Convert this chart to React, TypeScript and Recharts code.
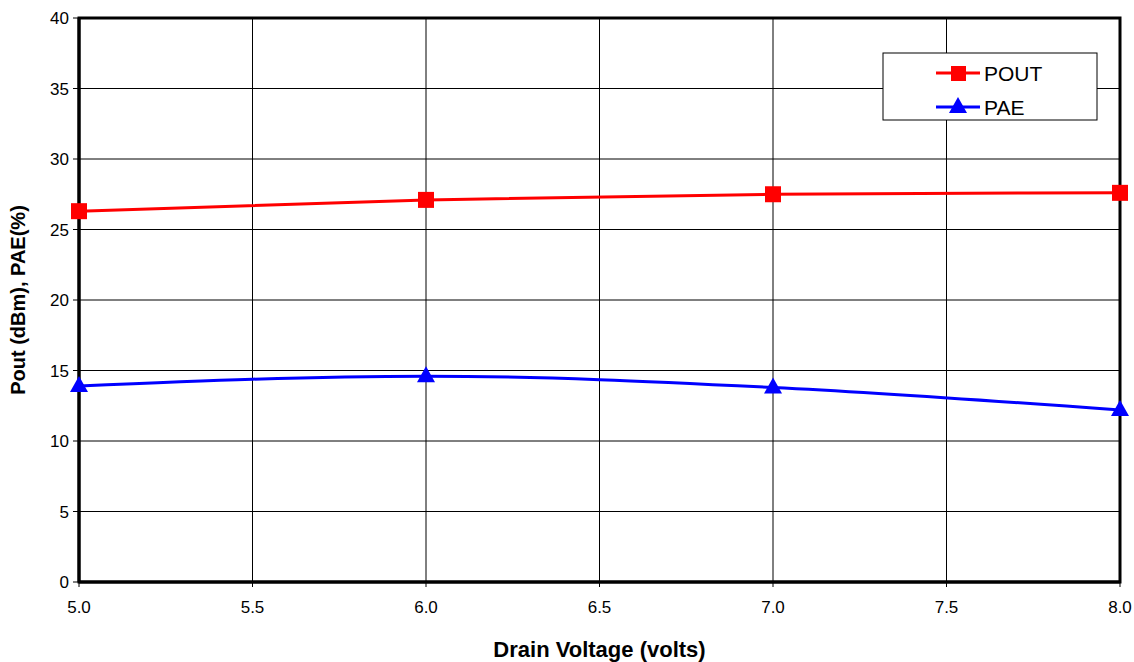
import React from "react";
import {
  LineChart, Line, XAxis, YAxis, CartesianGrid, ReferenceArea,
} from "recharts";

const voltages = [5.0, 6.0, 7.0, 8.0];
const pout = [26.3, 27.1, 27.5, 27.6];
const pae = [13.9, 14.6, 13.8, 12.2];
const xTicks = [5.0, 5.5, 6.0, 6.5, 7.0, 7.5, 8.0];
const yTicks = [0, 5, 10, 15, 20, 25, 30, 35, 40];

const data = voltages.map((v, i) => ({ v, pout: pout[i], pae: pae[i] }));

const FONT = "'Liberation Sans', Arial, sans-serif";

const Square = (props: any) => {
  const { cx, cy } = props;
  if (cx == null || cy == null) return null;
  return <rect x={cx - 8} y={cy - 8} width={16} height={16} fill="#ff0000" />;
};

const Triangle = (props: any) => {
  const { cx, cy } = props;
  if (cx == null || cy == null) return null;
  return (
    <polygon
      points={`${cx},${cy - 10} ${cx + 9},${cy + 6} ${cx - 9},${cy + 6}`}
      fill="#0000ff"
    />
  );
};

const LegendBox = () => (
  <svg
    width={216}
    height={69}
    style={{ position: "absolute", left: 882, top: 52 }}
  >
    <rect x={1} y={1} width={214} height={67} fill="#fff" stroke="#000" strokeWidth={1} />
    <line x1={54} y1={21} x2={98} y2={21} stroke="#ff0000" strokeWidth={3} />
    <rect x={69} y={14} width={15} height={15} fill="#ff0000" />
    <line x1={54} y1={55} x2={98} y2={55} stroke="#0000ff" strokeWidth={3} />
    <polygon points="76,45 85,61 67,61" fill="#0000ff" />
    <text x={102} y={29} fontSize={21} fontFamily={FONT}>POUT</text>
    <text x={102} y={63} fontSize={21} fontFamily={FONT}>PAE</text>
  </svg>
);

export default function App() {
  return (
    <div style={{ position: "absolute", left: 0, top: 0, background: "#fff", width: 1134, height: 662 }}>
      <LineChart
        width={1134}
        height={662}
        data={data}
        margin={{ top: 18, right: 14, bottom: 0, left: 0 }}
      >
        <CartesianGrid stroke="#000" strokeWidth={1} horizontalValues={yTicks} verticalValues={xTicks} />
        <XAxis
          dataKey="v"
          type="number"
          domain={[5, 8]}
          ticks={xTicks}
          tickFormatter={(v) => v.toFixed(1)}
          height={80}
          tickSize={5}
          tickLine={{ stroke: "#000" }}
          axisLine={{ stroke: "#000", strokeWidth: 3 }}
          tick={{ fontSize: 17, fill: "#000", fontFamily: FONT, dy: 12 }}
          label={{
            value: "Drain Voltage (volts)",
            position: "insideBottom",
            offset: 5,
            style: { fontSize: 22, fontWeight: "bold", fill: "#000", fontFamily: FONT },
          }}
        />
        <YAxis
          type="number"
          domain={[0, 40]}
          ticks={yTicks}
          width={79}
          tickSize={6}
          tickLine={{ stroke: "#000" }}
          axisLine={{ stroke: "#000", strokeWidth: 3 }}
          tick={{ fontSize: 17, fill: "#000", fontFamily: FONT, dx: -2 }}
          label={{
            value: "Pout (dBm), PAE(%)",
            angle: -90,
            position: "insideLeft",
            offset: 18,
            style: { fontSize: 20, fontWeight: "bold", fill: "#000", fontFamily: FONT, textAnchor: "middle" },
          }}
        />
        <ReferenceArea x1={5} x2={8} y1={0} y2={40} fill="none" stroke="#000" strokeWidth={3} ifOverflow="visible" />
        <Line
          type="monotone"
          dataKey="pout"
          name="POUT"
          stroke="#ff0000"
          strokeWidth={3}
          dot={<Square />}
          activeDot={false}
          isAnimationActive={false}
        />
        <Line
          type="monotone"
          dataKey="pae"
          name="PAE"
          stroke="#0000ff"
          strokeWidth={3}
          dot={<Triangle />}
          activeDot={false}
          isAnimationActive={false}
        />
      </LineChart>
      <LegendBox />
    </div>
  );
}
